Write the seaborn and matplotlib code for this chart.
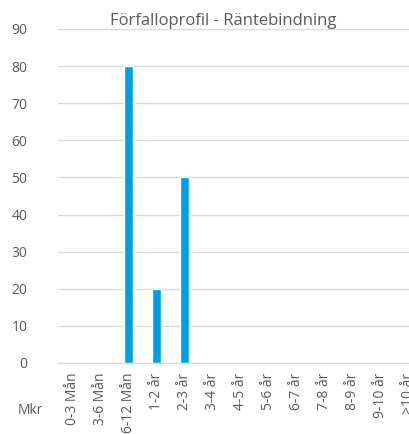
import pandas as pd
import seaborn as sns
import matplotlib.pyplot as plt

categories = ['0-3 Mån', '3-6 Mån', '6-12 Mån', '1-2 år', '2-3 år', '3-4 år', '4-5 år',
              '5-6 år', '6-7 år', '7-8 år', '8-9 år', '9-10 år', '>10 år']
values = [0, 0, 80, 20, 50, 0, 0, 0, 0, 0, 0, 0, 0]
yticks = [0, 10, 20, 30, 40, 50, 60, 70, 80, 90]

sns.set_style('white')
plt.rcParams['font.family'] = ['Open Sans', 'DejaVu Sans']
grey = '#595959'

df = pd.DataFrame({'period': categories, 'mkr': values})

fig = plt.figure(figsize=(4.09, 4.34), dpi=100)
ax = fig.add_axes([0.142, 0.1636, 0.89, 0.7697])
sns.barplot(data=df, x='period', y='mkr', color='#009FE3', saturation=1, width=0.32, ax=ax)

ax.set_xlim(-0.5, len(categories) - 0.5)
ax.set_ylim(0, 90)
ax.set_yticks(yticks)
ax.yaxis.grid(True, color='#D9D9D9', linewidth=1)
ax.set_axisbelow(True)
for s in ['top', 'right', 'left']:
    ax.spines[s].set_visible(False)
ax.spines['bottom'].set_color('#D9D9D9')
ax.tick_params(axis='both', length=0, colors=grey, labelsize=10)
ax.tick_params(axis='y', pad=22)
ax.tick_params(axis='x', pad=7)
ax.set_xticks(range(len(categories)))
ax.set_xticklabels(categories, rotation=90)
ax.set_xlabel('')
ax.set_ylabel('')

ax.set_title('Förfalloprofil - Räntebindning', color=grey, fontsize=12, x=0.455, pad=3)
fig.text(0.074, 0.055, 'Mkr', color=grey, fontsize=10, ha='center', va='center')

fig.savefig('out.png', dpi=100)
